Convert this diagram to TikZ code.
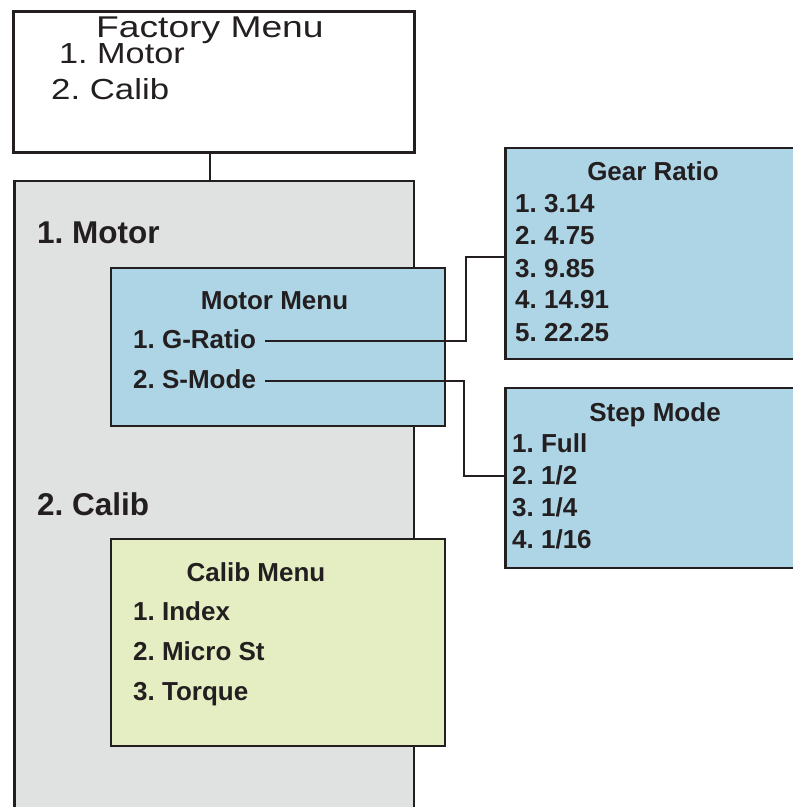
\documentclass[tikz,border=0pt]{standalone}
\usepackage{fontspec}
\setmainfont{Liberation Sans}
\definecolor{boxblue}{RGB}{173,213,230}
\definecolor{boxgreen}{RGB}{229,238,194}
\definecolor{boxgray}{RGB}{224,225,225}
\definecolor{ink}{RGB}{35,31,32}
\frenchspacing
\begin{document}
\frenchspacing
\begin{tikzpicture}[x=1pt,y=-1pt,
  frame/.style={draw=ink,line width=2.5pt,inner sep=0pt,anchor=north west},
  lcd/.style={anchor=base west,inner sep=0pt,text=ink},
  item/.style={anchor=base west,inner sep=0pt,text=ink,font=\bfseries\fontsize{26}{30}\selectfont,text height=14pt,text depth=0pt},
  ttl/.style={anchor=base,inner sep=0pt,text=ink,font=\bfseries\fontsize{26}{30}\selectfont},
  big/.style={anchor=base west,inner sep=0pt,text=ink,font=\bfseries\fontsize{31.5}{35}\selectfont},
  conn/.style={draw=ink,line width=2pt}]
\useasboundingbox (0,0) rectangle (793,807);
\clip (0,0) rectangle (793,807);
\fill[white] (0,0) rectangle (793,807);
% boxes
\node[frame,line width=3pt,fill=white,minimum width=401pt,minimum height=141pt] (top) at (12,10) {};
\node[frame,fill=boxgray,minimum width=399.5pt,minimum height=660pt] (gray) at (13,179.5) {};
\node[frame,fill=boxblue,minimum width=334pt,minimum height=158pt] (motor) at (109.5,266.5) {};
\node[frame,fill=boxgreen,minimum width=334pt,minimum height=207pt] (calib) at (109.5,537.5) {};
\node[frame,fill=boxblue,minimum width=299pt,minimum height=211pt] (gear) at (504,146.5) {};
\node[frame,fill=boxblue,minimum width=299pt,minimum height=180pt] (step) at (504,386.5) {};
% top box text
\node[lcd,font=\fontsize{30}{34}\selectfont] (ftitle) at (96,37) {\scalebox{1.24}[1]{Factory Menu}};
\node[lcd,font=\fontsize{29}{33}\selectfont] (fmotor) at (59,63) {\scalebox{1.18}[1]{1. Motor}};
\node[lcd,font=\fontsize{29}{33}\selectfont] (fcalib) at (51,99) {\scalebox{1.2}[1]{2. Calib}};
% gray labels
\node[big] (lmotor) at (37,243) {1. Motor};
\node[big] (lcalib) at (37,515) {2. Calib};
% motor menu
\node[ttl] (mtitle) at (274.5,309) {Motor Menu};
\node[item] (gr) at (133,348) {1. G-Ratio};
\node[item] (sm) at (133,388) {2. S-Mode};
% calib menu
\node[ttl] (ctitle) at (256,581) {Calib Menu};
\node[item] (ci1) at (133,620) {1. Index};
\node[item] (ci2) at (133,660) {2. Micro St};
\node[item] (ci3) at (133,700) {3. Torque};
% gear ratio
\node[ttl] (gtitle) at (653,180) {Gear Ratio};
\node[item] (g1) at (515,212) {1. 3.14};
\node[item] (g2) at (515,244) {2. 4.75};
\node[item] (g3) at (515,277) {3. 9.85};
\node[item] (g4) at (515,308) {4. 14.91};
\node[item] (g5) at (515,341) {5. 22.25};
% step mode
\node[ttl] (stitle) at (655,421) {Step Mode};
\node[item] (s1) at (512,452) {1. Full};
\node[item] (s2) at (512,484) {2. 1/2};
\node[item] (s3) at (512,516) {3. 1/4};
\node[item] (s4) at (512,548) {4. 1/16};
% connectors
\draw[conn] ([xshift=-4.5pt]top.south) -- ([xshift=-4.5pt]top.south |- gray.north);
\coordinate (gbend) at (466,257);
\coordinate (sbend) at (464,476);
\draw[conn] ([xshift=9pt]gr.east) -| (gbend) -- (gbend -| gear.west);
\draw[conn] ([xshift=9pt]sm.east) -| (sbend) -- (sbend -| step.west);
\end{tikzpicture}
\end{document}
